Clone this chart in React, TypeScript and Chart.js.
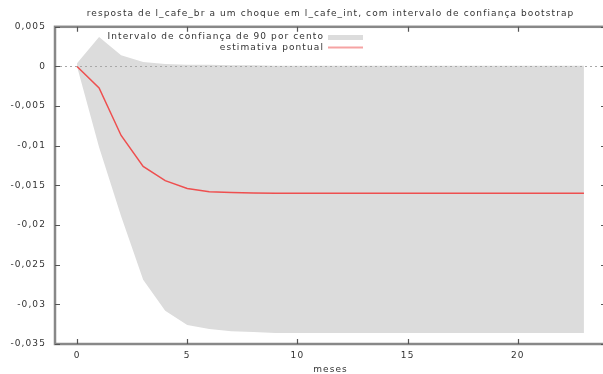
import { useEffect, useRef } from "react";
import { Chart, registerables } from "chart.js";

Chart.register(...registerables);

const titleText =
  "resposta de l_cafe_br a um choque em l_cafe_int, com intervalo de confiança bootstrap";
const bandLabel = "Intervalo de confiança de 90 por cento";
const estimateLabel = "estimativa pontual";
const xAxisTitle = "meses";

const months = [0, 1, 2, 3, 4, 5, 6, 7, 8, 9, 10, 11, 12, 13, 14, 15, 16, 17, 18, 19, 20, 21, 22, 23];
const estimate = [
  0, -0.0027, -0.0087, -0.0126, -0.0144, -0.0154, -0.0158, -0.0159, -0.01597, -0.016, -0.016, -0.016,
  -0.016, -0.016, -0.016, -0.016, -0.016, -0.016, -0.016, -0.016, -0.016, -0.016, -0.016, -0.016,
];
const upperBound = [
  0.0004, 0.0037, 0.0014, 0.00055, 0.0003, 0.0002, 0.0002, 0.00015, 0.00015, 0.0001, 0.0001, 0.0001,
  0.0001, 0.0001, 0.0001, 0.0001, 0.0001, 0.0001, 0.0001, 0.0001, 0.0001, 0.0001, 0.0001, 0.0001,
];
const lowerBound = [
  0, -0.0102, -0.0189, -0.0269, -0.0308, -0.0326, -0.0331, -0.0334, -0.0335, -0.0336, -0.0336, -0.0336,
  -0.0336, -0.0336, -0.0336, -0.0336, -0.0336, -0.0336, -0.0336, -0.0336, -0.0336, -0.0336, -0.0336, -0.0336,
];
const xTickValues = [0, 5, 10, 15, 20];
const yTickValues = [0.005, 0, -0.005, -0.01, -0.015, -0.02, -0.025, -0.03, -0.035];

const FONT = { family: "'DejaVu Sans', sans-serif", size: 9 };
const LETTER_SPACING = "1.1px";
const TEXT_COLOR = "#333333";
const BAND_COLOR = "#dcdcdc";
const LINE_COLOR = "#ee4f4f";

const fmt = (v: number) => {
  const n = Number(v.toFixed(4));
  return (Object.is(n, -0) ? 0 : n).toString().replace(".", ",");
};

const spacingPlugin = {
  id: "spacing",
  beforeUpdate(chart: any) {
    chart.ctx.letterSpacing = LETTER_SPACING;
  },
  beforeDraw(chart: any) {
    chart.ctx.letterSpacing = LETTER_SPACING;
  },
};

const framePlugin = {
  id: "frame",
  afterDatasetsDraw(chart: any) {
    const { ctx, chartArea: a, scales } = chart;
    const xs = scales.x;
    const ys = scales.y;
    ctx.save();
    // zero axis
    ctx.strokeStyle = "#a8a8a8";
    ctx.lineWidth = 1;
    ctx.setLineDash([2, 3]);
    const y0 = Math.round(ys.getPixelForValue(0)) + 0.5;
    ctx.beginPath();
    ctx.moveTo(a.left, y0);
    ctx.lineTo(a.right, y0);
    ctx.stroke();
    ctx.setLineDash([]);
    // border
    ctx.strokeStyle = "#888888";
    ctx.lineWidth = 2.5;
    ctx.strokeRect(a.left, a.top, a.right - a.left, a.bottom - a.top);
    // inward ticks
    ctx.lineWidth = 1.2;
    ctx.strokeStyle = "#555555";
    ctx.beginPath();
    for (const v of xTickValues) {
      const px = Math.round(xs.getPixelForValue(v)) + 0.5;
      ctx.moveTo(px, a.bottom);
      ctx.lineTo(px, a.bottom - 5);
      ctx.moveTo(px, a.top);
      ctx.lineTo(px, a.top + 5);
    }
    for (const v of yTickValues) {
      const py = Math.round(ys.getPixelForValue(v)) + 0.5;
      ctx.moveTo(a.left, py);
      ctx.lineTo(a.left + 5, py);
      ctx.moveTo(a.right, py);
      ctx.lineTo(a.right - 5, py);
    }
    ctx.stroke();
    // key
    const ds = chart.data.datasets;
    ctx.letterSpacing = LETTER_SPACING;
    ctx.font = `${FONT.size}px ${FONT.family}`;
    ctx.fillStyle = TEXT_COLOR;
    ctx.textAlign = "right";
    ctx.textBaseline = "middle";
    const textRight = 324;
    const swL = 328;
    const swR = 363;
    ctx.fillText(ds[1].label, textRight, 37);
    ctx.fillText(ds[2].label, textRight, 47.5);
    ctx.fillStyle = BAND_COLOR;
    ctx.fillRect(swL, 35, swR - swL, 5);
    ctx.strokeStyle = "#f6a3a3";
    ctx.lineWidth = 2;
    ctx.beginPath();
    ctx.moveTo(swL, 47.5);
    ctx.lineTo(swR, 47.5);
    ctx.stroke();
    ctx.restore();
  },
};

export default function App() {
  const ref = useRef<HTMLCanvasElement>(null);
  useEffect(() => {
    if (!ref.current) return;
    const chart = new Chart(ref.current, {
      type: "line",
      data: {
        datasets: [
          {
            label: "upper",
            data: months.map((m, i) => ({ x: m, y: upperBound[i] })),
            borderWidth: 0,
            pointRadius: 0,
            fill: false,
            order: 2,
          },
          {
            label: bandLabel,
            data: months.map((m, i) => ({ x: m, y: lowerBound[i] })),
            borderWidth: 0,
            borderColor: BAND_COLOR,
            backgroundColor: BAND_COLOR,
            pointRadius: 0,
            fill: "-1",
            order: 1,
          },
          {
            label: estimateLabel,
            data: months.map((m, i) => ({ x: m, y: estimate[i] })),
            borderColor: LINE_COLOR,
            borderWidth: 1.5,
            pointRadius: 0,
            fill: false,
            order: 0,
          },
        ],
      },
      options: {
        animation: false,
        responsive: false,
        maintainAspectRatio: false,
        events: [],
        layout: { padding: { left: 0, right: 6, top: 0, bottom: 0 } },
        plugins: {
          legend: { display: false },
          tooltip: { enabled: false },
          title: {
            display: true,
            text: titleText,
            fullSize: false,
            color: TEXT_COLOR,
            font: { ...FONT, weight: "normal" },
            padding: { top: 8, bottom: 8 },
          },
        },
        scales: {
          x: {
            type: "linear",
            min: -1,
            max: 24,
            grid: { display: false, drawTicks: false },
            border: { display: false },
            afterBuildTicks: (s: any) => {
              s.ticks = xTickValues.map((v) => ({ value: v }));
            },
            afterFit: (s: any) => {
              s.height = 30;
            },
            ticks: {
              color: TEXT_COLOR,
              font: FONT,
              padding: 6,
              maxRotation: 0,
              autoSkip: false,
              callback: (v: any) => String(v),
            },
            title: {
              display: true,
              text: xAxisTitle,
              color: TEXT_COLOR,
              font: FONT,
              padding: { top: 0, bottom: -1 },
            },
          },
          y: {
            type: "linear",
            min: -0.035,
            max: 0.005,
            grid: { display: false, drawTicks: false },
            border: { display: false },
            afterBuildTicks: (s: any) => {
              s.ticks = yTickValues.map((v) => ({ value: v }));
            },
            afterFit: (s: any) => {
              s.width = 55;
            },
            ticks: {
              color: TEXT_COLOR,
              font: FONT,
              padding: 9,
              autoSkip: false,
              callback: (v: any) => fmt(Number(v)),
            },
          },
        },
      },
      plugins: [spacingPlugin, framePlugin],
    });
    return () => chart.destroy();
  }, []);
  return (
    <div
      style={{
        position: "fixed",
        left: 0,
        top: 0,
        width: 603,
        height: 374,
        overflow: "hidden",
        background: "#ffffff",
      }}
    >
      <canvas ref={ref} width={612} height={374} style={{ display: "block" }} />
    </div>
  );
}
